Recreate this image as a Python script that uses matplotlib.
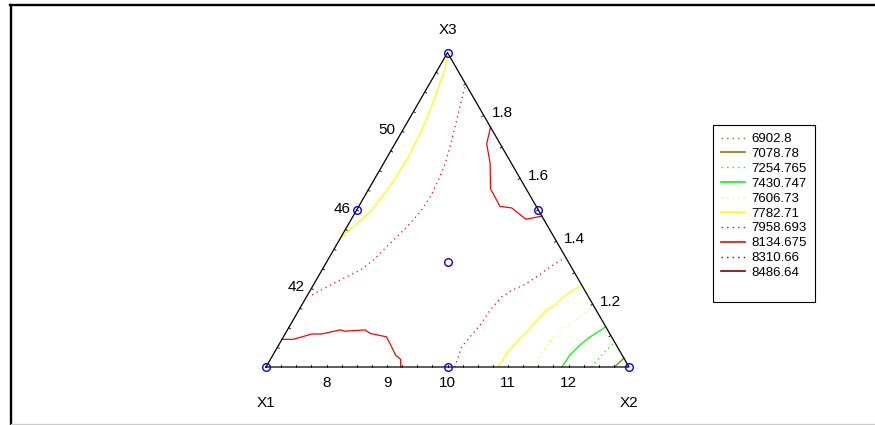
import numpy as np
import matplotlib
matplotlib.use("Agg")
import matplotlib.pyplot as plt
from matplotlib.lines import Line2D

plt.rcParams['font.family'] = ['Liberation Sans', 'DejaVu Sans']

# contour levels of the response, with line colour and style
levels = [6902.8, 7078.78, 7254.765, 7430.747, 7606.73, 7782.71, 7958.693, 8134.675, 8310.66, 8486.64]
level_colors = ['#808000', '#808000', '#00ff00', '#00ff00', '#ffff00', '#ffff00',
                '#ff0000', '#ff0000', '#800000', '#800000']
level_styles = ['dot', 'solid'] * 5

# contour polylines, as (X2 share, X3 share) of the simplex
contours = {
    6902.8: [[(0.993, 0.0), (0.993, 0.006)]],
    7078.78: [[(0.960, 0.0), (0.972, 0.028)]],
    7254.765: [[(0.897, 0.0), (0.904, 0.033), (0.913, 0.059), (0.920, 0.080)]],
    7430.747: [[(0.815, 0.0), (0.818, 0.038), (0.830, 0.070), (0.845, 0.096),
                (0.859, 0.112), (0.872, 0.128)]],
    7606.73: [[(0.741, 0.0), (0.737, 0.054), (0.743, 0.096), (0.764, 0.128),
               (0.785, 0.160), (0.806, 0.194)]],
    7782.71: [[(0.640, 0.0), (0.641, 0.044), (0.652, 0.086), (0.664, 0.118),
               (0.673, 0.155), (0.683, 0.181), (0.698, 0.197), (0.707, 0.223),
               (0.724, 0.244), (0.740, 0.260)],
              [(0.005, 0.990), (0.019, 0.948), (0.030, 0.890), (0.044, 0.816),
               (0.053, 0.742), (0.058, 0.668), (0.056, 0.599), (0.048, 0.541),
               (0.040, 0.493), (0.022, 0.456), (0.0, 0.408)]],
    7958.693: [[(0.520, 0.0), (0.507, 0.064), (0.514, 0.096), (0.523, 0.133),
                (0.527, 0.181), (0.538, 0.223), (0.555, 0.244), (0.579, 0.260),
                (0.602, 0.287), (0.623, 0.318), (0.644, 0.342)],
               [(0.103, 0.890), (0.113, 0.853), (0.127, 0.805), (0.142, 0.752),
                (0.157, 0.699), (0.170, 0.647), (0.178, 0.594), (0.182, 0.541),
                (0.178, 0.493), (0.165, 0.445), (0.149, 0.403), (0.137, 0.371),
                (0.126, 0.340), (0.105, 0.308), (0.079, 0.287), (0.046, 0.260),
                (0.012, 0.229)]],
    8134.675: [[(0.237, 0.763), (0.253, 0.710), (0.294, 0.647), (0.335, 0.567),
                (0.389, 0.511), (0.424, 0.506), (0.481, 0.470), (0.520, 0.480)],
               [(0.0, 0.088), (0.031, 0.088), (0.074, 0.105), (0.101, 0.105),
                (0.145, 0.118), (0.161, 0.114), (0.214, 0.118), (0.233, 0.107),
                (0.284, 0.096), (0.314, 0.064), (0.338, 0.038), (0.359, 0.024),
                (0.371, 0.0)]],
    8310.66: [],
    8486.64: [],
}

# simplex-centroid design points (X2 share, X3 share)
design_b = [0.0, 1.0, 0.0, 0.5, 0.0, 0.5, 1 / 3]
design_c = [0.0, 0.0, 1.0, 0.0, 0.5, 0.5, 1 / 3]

# edge scales
bottom_ticks = np.arange(7.25, 13.0, 0.25)
bottom_labels = [8, 9, 10, 11, 12]
left_ticks = np.arange(39, 54, 1)
left_labels = [42, 46, 50]
right_ticks = np.arange(1.1, 2.0, 0.1)
right_labels = [1.2, 1.4, 1.6, 1.8]

h = np.sqrt(3) / 2


def tern(b, c):
    b = np.asarray(b, dtype=float)
    c = np.asarray(c, dtype=float)
    return b + c / 2, c * h


fig = plt.figure(figsize=(8.75, 4.25), dpi=100)
ax = fig.add_axes([0, 0, 1, 1])
ax.set_xlim(-266 / 363, 609 / 363)
ax.set_ylim(-58 / 363, 367 / 363)
ax.axis('off')

# page frame
fig.add_artist(Line2D([0.012, 0.012], [0, 0.988], color='black', lw=1.7, transform=fig.transFigure))
fig.add_artist(Line2D([0.011, 1], [0.988, 0.988], color='black', lw=1.7, transform=fig.transFigure))
fig.add_artist(Line2D([0.012, 1], [0.002, 0.002], color='#cccccc', lw=1, transform=fig.transFigure))

# triangle
tx, ty = tern([0, 1, 0, 0], [0, 0, 1, 0])
ax.plot(tx, ty, color='black', lw=0.9, zorder=3)

# contours
for lev, col, sty in zip(levels, level_colors, level_styles):
    ls = (0, (1, 3)) if sty == 'dot' else '-'
    for seg in contours[lev]:
        b = [p[0] for p in seg]
        c = [p[1] for p in seg]
        x, y = tern(b, c)
        ax.plot(x, y, color=col, lw=0.9, linestyle=ls, zorder=2)
    ax.plot([], [], color=col, lw=1.2 if sty == 'solid' else 1.0, linestyle=ls, label=str(lev))

# design points
dx, dy = tern(design_b, design_c)
ax.plot(dx, dy, 'o', mfc='none', mec='#0000ff', mew=1.0, ms=5.5, zorder=4)

tl = 0.006  # tick length
tk = dict(color='black', lw=0.6)
fs = 11

# bottom edge (X1 -> X2)
for v in bottom_ticks:
    x, y = tern((v - 7) / 6, 0)
    ax.plot([x, x], [y, y + tl], **tk)
for v in bottom_labels:
    x, y = tern((v - 7) / 6, 0)
    ax.text(x, y - 0.044, str(v), ha='center', va='center', fontsize=fs)

# left edge (X1 -> X3)
nl = np.array([0.5 * np.sqrt(3), -0.5]) * tl
for v in left_ticks:
    x, y = tern(0, (v - 38) / 16)
    ax.plot([x, x + nl[0]], [y, y + nl[1]], **tk)
for v in left_labels:
    x, y = tern(0, (v - 38) / 16)
    ax.text(x - 0.018, y + 0.003, str(v), ha='right', va='center', fontsize=fs)

# right edge (X2 -> X3)
nr = np.array([-0.5 * np.sqrt(3), -0.5]) * tl
for v in right_ticks:
    x, y = tern(1 - (v - 1), v - 1)
    ax.plot([x, x + nr[0]], [y, y + nr[1]], **tk)
for v in right_labels:
    x, y = tern(1 - (v - 1), v - 1)
    ax.text(x + 0.021, y + 0.006, '{:.1f}'.format(v), ha='left', va='center', fontsize=fs)

# vertex names
for name, b, c, dy_ in [('X1', 0, 0, -0.098), ('X2', 1, 0, -0.098), ('X3', 0, 1, 0.061)]:
    x, y = tern(b, c)
    ax.text(x, y + dy_, name, ha='center', va='center', fontsize=fs)

handles, labels = ax.get_legend_handles_labels()
handles.append(Line2D([], [], color='none'))
labels.append(' ')
leg = ax.legend(handles, labels, loc='upper left', bbox_to_anchor=(713 / 875, 1 - 125 / 425),
                bbox_transform=fig.transFigure, borderaxespad=0, fontsize=9.5,
                fancybox=False, edgecolor='black', framealpha=1, handlelength=1.8,
                handletextpad=0.5, labelspacing=0.2, borderpad=0.6)
leg.get_frame().set_linewidth(0.8)

fig.savefig('out.png', dpi=100)
